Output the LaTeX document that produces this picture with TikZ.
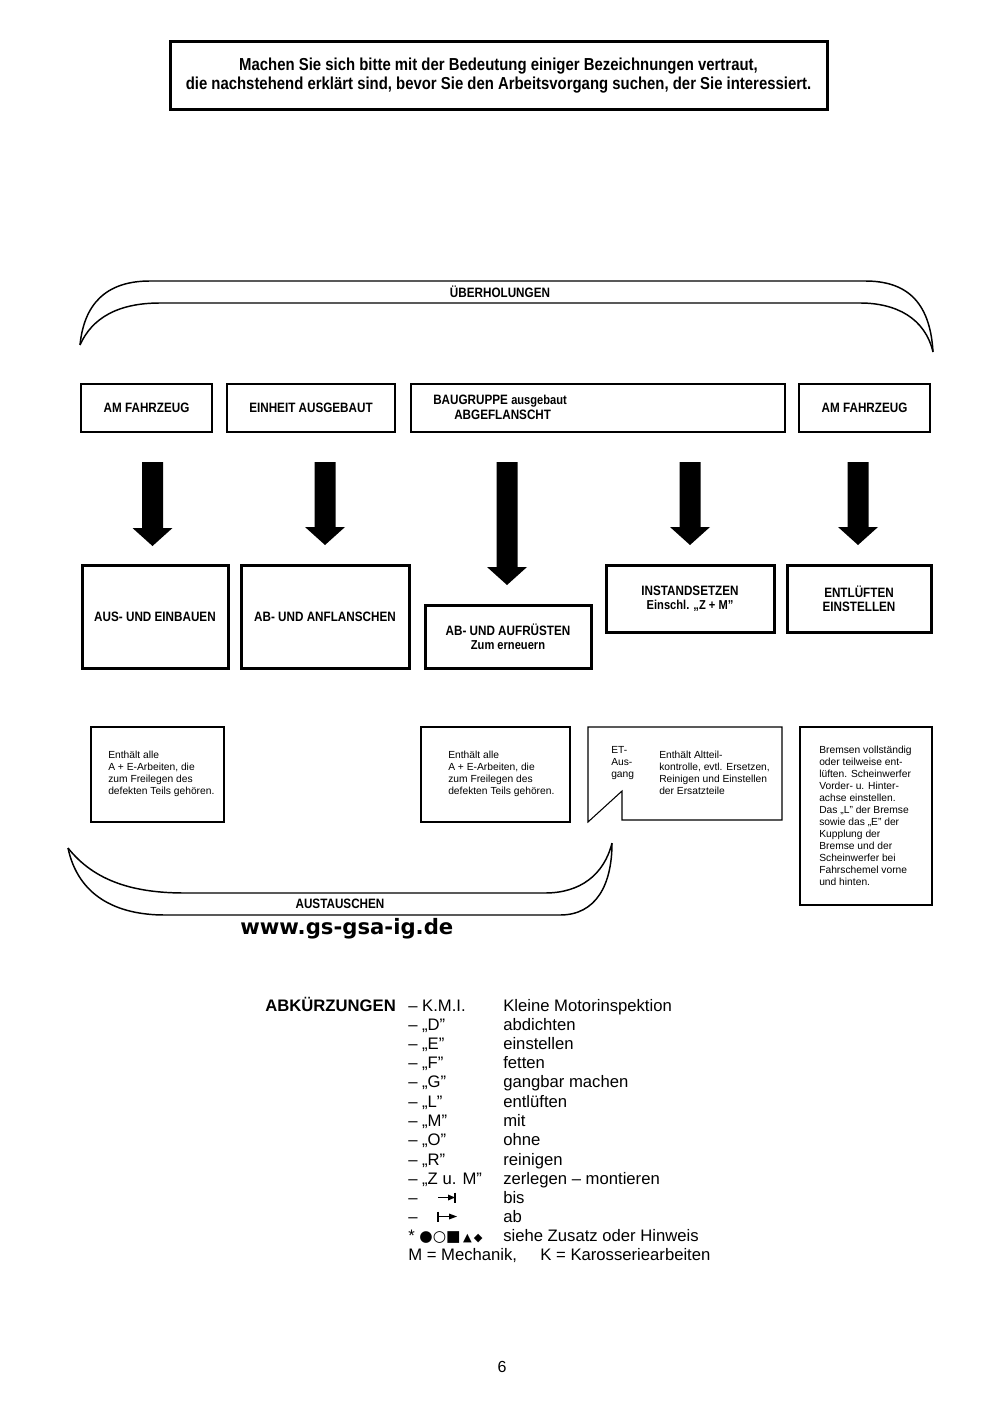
\documentclass[tikz,border=0pt]{standalone}
\usepackage{fontspec}
\setmainfont{Liberation Sans}
\newfontfamily\condfont[FakeStretch=0.86]{Liberation Sans}
\newfontfamily\dvfont{DejaVu Sans}
\newcommand\boxnode[7]{\node[#6, minimum width={(#4-#2)*0.75pt}, minimum height={(#5-#3)*0.75pt}] (#1) at ({(#2+#4)/2},{(#3+#5)/2}) {#7};}
\newcommand\blockarrow[5]{\fill ({#1-10.5},#2) -- ({#1+10.5},#2) -- ({#1+10.5},#3) -- ({#1+20},#3) -- (#1,#4) -- ({#1-20},#3) -- ({#1-10.5},#3) -- cycle;}
\begin{document}
\begin{tikzpicture}[x=0.75pt,y=-0.75pt,
  heavybox/.style={draw, line width=2.25pt, inner sep=0pt, align=center, font=\condfont\bfseries\fontsize{10.2}{10.5}\selectfont},
  midbox/.style={draw, line width=1.5pt, inner sep=0pt, align=center, font=\condfont\bfseries\fontsize{10.2}{10.5}\selectfont},
  thinbox/.style={draw, line width=0.8pt, inner sep=0pt},
  lab/.style={inner sep=0pt, font=\condfont\bfseries\fontsize{10.2}{10.5}\selectfont},
  small/.style={inner sep=0pt, anchor=north west, align=left, font=\fontsize{7.7}{9}\selectfont},
  abbr/.style={inner sep=0pt, anchor=base west, font=\fontsize{12.5}{14}\selectfont},
  brace/.style={line width=1.1pt}]
\fill[white] (0,0) rectangle (1000,1426);
\useasboundingbox (0,0) rectangle (1000,1426);

% top note
\boxnode{note}{170}{42}{827}{110}{heavybox, font=\condfont\bfseries\fontsize{13}{14.25}\selectfont}{Machen Sie sich bitte mit der Bedeutung einiger Bezeichnungen vertraut,\\die nachstehend erklärt sind, bevor Sie den Arbeitsvorgang suchen, der Sie interessiert.}

% top brace
\draw[brace] (80,345) .. controls (84,305) and (105,281) .. (150,281) -- (865,281) .. controls (905,281) and (930,300) .. (933,352);
\draw[brace] (80,345) .. controls (92,318) and (118,303) .. (160,303) -- (860,303) .. controls (896,303) and (925,318) .. (933,352);
\node[lab] (ueber) at (500,292) {ÜBERHOLUNGEN};

% row 1
\boxnode{a1}{81}{384}{212}{432}{midbox}{AM FAHRZEUG}
\boxnode{a2}{227}{384}{395}{432}{midbox}{EINHEIT AUSGEBAUT}
\boxnode{a3}{411}{384}{785}{432}{midbox}{}
\node[lab, anchor=west] (a3t1) at (433,401) {BAUGRUPPE \fontsize{9.7}{10}\selectfont ausgebaut};
\node[lab, anchor=west] (a3t2) at (454,415) {ABGEFLANSCHT};
\boxnode{a4}{799}{384}{930}{432}{midbox}{AM FAHRZEUG}

% arrows
\blockarrow{152.5}{462}{528}{546}{}
\blockarrow{325}{462}{527}{545}{}
\blockarrow{507}{462}{567}{585}{}
\blockarrow{690}{462}{527}{545}{}
\blockarrow{858}{462}{527}{545}{}

% row 2
\boxnode{b1}{82}{565}{228}{668}{heavybox}{AUS- UND EINBAUEN}
\boxnode{b2}{241}{565}{409}{668}{heavybox}{AB- UND ANFLANSCHEN}
\boxnode{b3}{425}{605}{591}{668}{heavybox}{AB- UND AUFRÜSTEN\\\fontsize{9.7}{10.5}\selectfont Zum erneuern}
\boxnode{b4}{606}{565}{774}{632}{heavybox}{INSTANDSETZEN\\\fontsize{9.7}{10.5}\selectfont Einschl. „Z + M”}
\boxnode{b5}{787}{565}{931}{632}{heavybox}{ENTLÜFTEN\\EINSTELLEN}

% row 3
\boxnode{c1}{91}{727}{224}{822}{thinbox}{}
\node[small] (c1t) at (108,751) {Enthält alle\\A + E-Arbeiten, die\\zum Freilegen des\\defekten Teils gehören.};
\boxnode{c2}{421}{727}{570}{822}{thinbox}{}
\node[small] (c2t) at (448,751) {Enthält alle\\A + E-Arbeiten, die\\zum Freilegen des\\defekten Teils gehören.};
\draw[line width=0.8pt] (588,727) -- (588,822) -- (622,791) -- (622,820) -- (782,820) -- (782,727) -- cycle;
\node[small] (c3a) at (611,746) {ET-\\Aus-\\gang};
\node[small] (c3b) at (659,751) {Enthält Altteil-\\kontrolle, evtl. Ersetzen,\\Reinigen und Einstellen\\der Ersatzteile};
\boxnode{c4}{800}{727}{932}{905}{thinbox}{}
\node[small] (c4t) at (819,746) {Bremsen vollständig\\oder teilweise ent-\\lüften. Scheinwerfer\\Vorder- u. Hinter-\\achse einstellen.\\Das „L” der Bremse\\sowie das „E” der\\Kupplung der\\Bremse und der\\Scheinwerfer bei\\Fahrschemel vorne\\und hinten.};

% bottom brace
\draw[brace] (68,848) .. controls (78,895) and (115,915) .. (165,915) -- (560,915) .. controls (596,915) and (612,885) .. (612,843);
\draw[brace] (68,848) .. controls (95,882) and (135,893) .. (185,893) -- (545,893) .. controls (580,893) and (604,875) .. (612,843);
\node[lab] (aust) at (340,904) {AUSTAUSCHEN};

\node[inner sep=0pt, anchor=west, font=\dvfont\bfseries\fontsize{15.9}{18}\selectfont] (www) at (240,929) {www.gs-gsa-ig.de};

% abbreviations
\node[abbr, font=\bfseries\fontsize{12.5}{14}\selectfont] (abk) at (265,1011) {ABKÜRZUNGEN};
\node[abbr] (k1) at (408,1011) {– K.M.I.};
\node[abbr] (v1) at (503,1011) {Kleine Motorinspektion};
\node[abbr] (k2) at (408,1030) {– „D”};
\node[abbr] (v2) at (503,1030) {abdichten};
\node[abbr] (k3) at (408,1049) {– „E”};
\node[abbr] (v3) at (503,1049) {einstellen};
\node[abbr] (k4) at (408,1068) {– „F”};
\node[abbr] (v4) at (503,1068) {fetten};
\node[abbr] (k5) at (408,1087) {– „G”};
\node[abbr] (v5) at (503,1087) {gangbar machen};
\node[abbr] (k6) at (408,1107) {– „L”};
\node[abbr] (v6) at (503,1107) {entlüften};
\node[abbr] (k7) at (408,1126) {– „M”};
\node[abbr] (v7) at (503,1126) {mit};
\node[abbr] (k8) at (408,1145) {– „O”};
\node[abbr] (v8) at (503,1145) {ohne};
\node[abbr] (k9) at (408,1165) {– „R”};
\node[abbr] (v9) at (503,1165) {reinigen};
\node[abbr] (k10) at (408,1184) {– „Z u. M”};
\node[abbr] (v10) at (503,1184) {zerlegen – montieren};
\node[abbr] (k11) at (408,1203) {–};
\draw[line width=1pt] (438,1197.5) -- (450,1197.5);
\fill (455,1197.5) -- (448,1194.5) -- (448,1200.5) -- cycle;
\draw[line width=1pt] (455,1192.5) -- (455,1202.5);
\node[abbr] (v11) at (503,1203) {bis};
\node[abbr] (k12) at (408,1222) {–};
\draw[line width=1pt] (438,1211.5) -- (438,1221.5);
\draw[line width=1pt] (438,1216.5) -- (451,1216.5);
\fill (457,1216.5) -- (449,1213.5) -- (449,1219.5) -- cycle;
\node[abbr] (v12) at (503,1222) {ab};
\node[abbr] (k13) at (408,1241) {* \dvfont\fontsize{11.5}{12}\selectfont ●○■\,{\fontsize{8.5}{9}\selectfont▲\,◆}};
\node[abbr] (v13) at (503,1241) {siehe Zusatz oder Hinweis};
\node[abbr] (k14) at (408,1260) {M = Mechanik,\hspace{1.4em}K = Karosseriearbeiten};

\node[inner sep=0pt, font=\fontsize{12}{14}\selectfont] (page) at (502,1367) {6};
\end{tikzpicture}
\end{document}
